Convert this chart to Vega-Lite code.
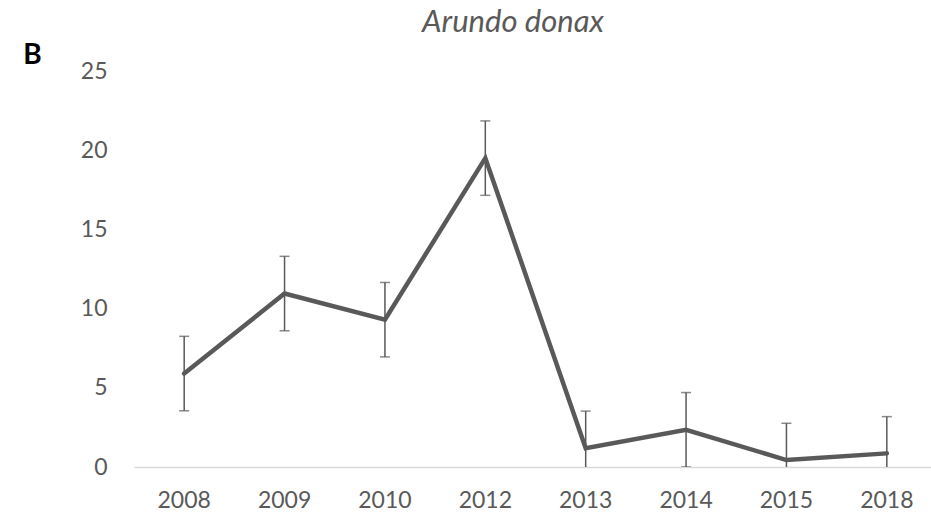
{
  "$schema": "https://vega.github.io/schema/vega-lite/v6.json",
  "width": 796,
  "height": 396,
  "autosize": {"type": "none"},
  "padding": {"left": 134, "top": 71, "right": 1, "bottom": 53},
  "background": "white",
  "title": {
    "text": "Arundo donax",
    "font": "Lato",
    "fontSize": 31,
    "fontStyle": "italic",
    "fontWeight": "normal",
    "color": "#595959",
    "anchor": "middle",
    "frame": "group",
    "dx": -19,
    "offset": 2
  },
  "config": {
    "view": {"stroke": null},
    "font": "Lato"
  },
  "data": {
    "values": [
      {"year": "2008", "mean": 5.9, "lower": 3.55, "upper": 8.25},
      {"year": "2009", "mean": 10.95, "lower": 8.6, "upper": 13.3},
      {"year": "2010", "mean": 9.3, "lower": 6.95, "upper": 11.65},
      {"year": "2012", "mean": 19.5, "lower": 17.15, "upper": 21.85},
      {"year": "2013", "mean": 1.18, "lower": -1.17, "upper": 3.53},
      {"year": "2014", "mean": 2.35, "lower": 0, "upper": 4.7},
      {"year": "2015", "mean": 0.44, "lower": -1.9, "upper": 2.76},
      {"year": "2018", "mean": 0.86, "lower": -1.46, "upper": 3.18}
    ]
  },
  "encoding": {
    "x": {
      "field": "year",
      "type": "ordinal",
      "sort": null,
      "scale": {"type": "band", "paddingInner": 0, "paddingOuter": 0, "range": [0, 803]},
      "axis": {
        "title": null,
        "labelAngle": 0,
        "labelFont": "Lato",
        "labelFontSize": 23,
        "labelColor": "#595959",
        "labelPadding": 22,
        "ticks": false,
        "domainColor": "#D9D9D9",
        "domainWidth": 1.5,
        "grid": false
      }
    }
  },
  "layer": [
    {
      "mark": {"type": "rule", "color": "#595959", "strokeWidth": 1.5, "clip": true},
      "encoding": {
        "y": {
          "field": "lower",
          "type": "quantitative",
          "scale": {"domain": [0, 25], "nice": false, "zero": false},
          "axis": {
            "title": "B",
            "titleAngle": 0,
            "titleFont": "Lato",
            "titleFontSize": 28,
            "titleFontWeight": "bold",
            "titleColor": "#000000",
            "titleAlign": "center",
            "titleBaseline": "alphabetic",
            "titleX": -102,
            "titleY": -8,
            "values": [0, 5, 10, 15, 20, 25],
            "labelFont": "Lato",
            "labelFontSize": 23,
            "labelColor": "#595959",
            "labelPadding": 27,
            "ticks": false,
            "domain": false,
            "grid": false
          }
        },
        "y2": {"field": "upper"}
      }
    },
    {
      "mark": {"type": "tick", "color": "#595959", "thickness": 1.5, "size": 10, "orient": "horizontal", "clip": true},
      "encoding": {"y": {"field": "upper", "type": "quantitative"}}
    },
    {
      "mark": {"type": "tick", "color": "#595959", "thickness": 1.5, "size": 10, "orient": "horizontal", "clip": true},
      "encoding": {"y": {"field": "lower", "type": "quantitative"}}
    },
    {
      "mark": {"type": "line", "color": "#595959", "strokeWidth": 4.5, "strokeJoin": "miter", "strokeCap": "round"},
      "encoding": {"y": {"field": "mean", "type": "quantitative"}}
    }
  ]
}
